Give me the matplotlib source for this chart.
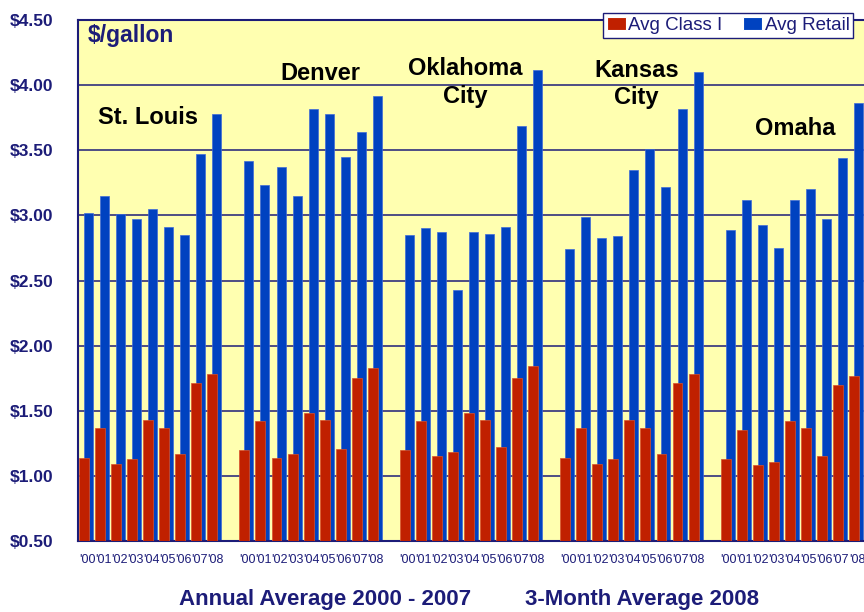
import numpy as np
import matplotlib.pyplot as plt
from matplotlib.patches import Patch

plt.rcParams['font.family'] = ['Liberation Sans', 'DejaVu Sans']

# Valores ($/galón)
cities = ["St. Louis", "Denver", "Oklahoma\nCity", "Kansas\nCity", "Omaha"]
years = ["'00", "'01", "'02", "'03", "'04", "'05", "'06", "'07", "'08"]

class_i_stl = [1.14, 1.37, 1.09, 1.13, 1.43, 1.37, 1.17, 1.71, 1.78]
class_i_den = [1.20, 1.42, 1.14, 1.17, 1.48, 1.43, 1.21, 1.75, 1.83]
class_i_okc = [1.20, 1.42, 1.15, 1.18, 1.48, 1.43, 1.22, 1.75, 1.84]
class_i_kc = [1.14, 1.37, 1.09, 1.13, 1.43, 1.37, 1.17, 1.71, 1.78]
class_i_oma = [1.13, 1.35, 1.08, 1.11, 1.42, 1.37, 1.15, 1.70, 1.77]

retail_stl = [3.02, 3.15, 3.01, 2.97, 3.05, 2.91, 2.85, 3.47, 3.78]
retail_den = [3.42, 3.23, 3.37, 3.15, 3.82, 3.78, 3.45, 3.64, 3.92]
retail_okc = [2.85, 2.90, 2.87, 2.43, 2.87, 2.86, 2.91, 3.69, 4.12]
retail_kc = [2.74, 2.99, 2.83, 2.84, 3.35, 3.51, 3.22, 3.82, 4.10]
retail_oma = [2.89, 3.12, 2.93, 2.75, 3.12, 3.20, 2.97, 3.44, 3.86]

class_i = [class_i_stl, class_i_den, class_i_okc, class_i_kc, class_i_oma]
retail = [retail_stl, retail_den, retail_okc, retail_kc, retail_oma]

navy = '#1c1c78'
red = '#c02000'
blue = '#0042c0'

fig = plt.figure(figsize=(8.64, 6.12), dpi=100)
ax = fig.add_axes([0.0903, 0.116, 0.9097, 0.8513])
ax.set_facecolor('#ffffb0')

# Posiciones: 9 años por ciudad y un hueco entre ciudades
pos = []
ticks_lbl = []
for g in range(len(cities)):
    for j in range(len(years)):
        pos.append(g * 10 + j)
        ticks_lbl.append(years[j])
pos = np.array(pos)
vals_red = np.concatenate(class_i)
vals_blue = np.concatenate(retail)

ax.bar(pos + 0.125, vals_blue, width=0.56, color=blue, edgecolor='#3f6ad8',
       linewidth=0.5, zorder=2)
ax.bar(pos - 0.156, vals_red, width=0.62, color=red, edgecolor='#d8502a',
       linewidth=0.5, zorder=3)

ax.set_ylim(0.5, 4.5)
ax.set_xlim(-0.53, 48.47)
ax.set_yticks(np.arange(0.5, 4.51, 0.5))
ax.set_yticklabels([f"${v:.2f}" for v in np.arange(0.5, 4.51, 0.5)],
                   fontsize=12.5, fontweight='bold', color=navy)
ax.set_xticks(pos + 0.03)
ax.set_xticklabels(ticks_lbl, fontsize=9, color=navy)
ax.tick_params(axis='y', length=0, pad=18)
ax.tick_params(axis='x', length=0, pad=9)
ax.grid(axis='y', color=navy, linewidth=1.1)
ax.set_axisbelow(True)
for s in ['left', 'top', 'bottom']:
    ax.spines[s].set_color(navy)
    ax.spines[s].set_linewidth(1.5)
ax.spines['right'].set_visible(False)

# Textos
ax.text(0.09, 4.38, "$/gallon", fontsize=16.5, fontweight='bold', color=navy,
        ha='left', va='center')
city_xy = [(3.83, 3.75), (14.6, 4.09), (23.6, 4.02), (34.3, 4.01), (44.17, 3.67)]
for name, (x, y) in zip(cities, city_xy):
    ax.text(x, y, name, fontsize=17, fontweight='bold', color='black',
            ha='center', va='center', linespacing=1.25)

fig.text(325 / 864, 1 - 600 / 612, "Annual Average 2000 - 2007", fontsize=16,
         fontweight='bold', color=navy, ha='center', va='center')
fig.text(642 / 864, 1 - 600 / 612, "3-Month Average 2008", fontsize=16,
         fontweight='bold', color=navy, ha='center', va='center')

handles = [Patch(facecolor=red, edgecolor='white', linewidth=0.8),
           Patch(facecolor=blue, edgecolor='white', linewidth=0.8)]
leg = fig.legend(handles, ["Avg Class I", "Avg Retail"], loc='upper left',
                 bbox_to_anchor=(603 / 864, 1 - 13 / 612), ncol=2,
                 fontsize=13.5, frameon=True, fancybox=False, framealpha=1,
                 handlelength=1.0, handleheight=0.7, handletextpad=0.15,
                 columnspacing=1.1, borderpad=0.2, borderaxespad=0)
leg.get_frame().set_edgecolor(navy)
leg.get_frame().set_linewidth(1.0)
for t in leg.get_texts():
    t.set_color(navy)

fig.savefig("out.png", dpi=100)
